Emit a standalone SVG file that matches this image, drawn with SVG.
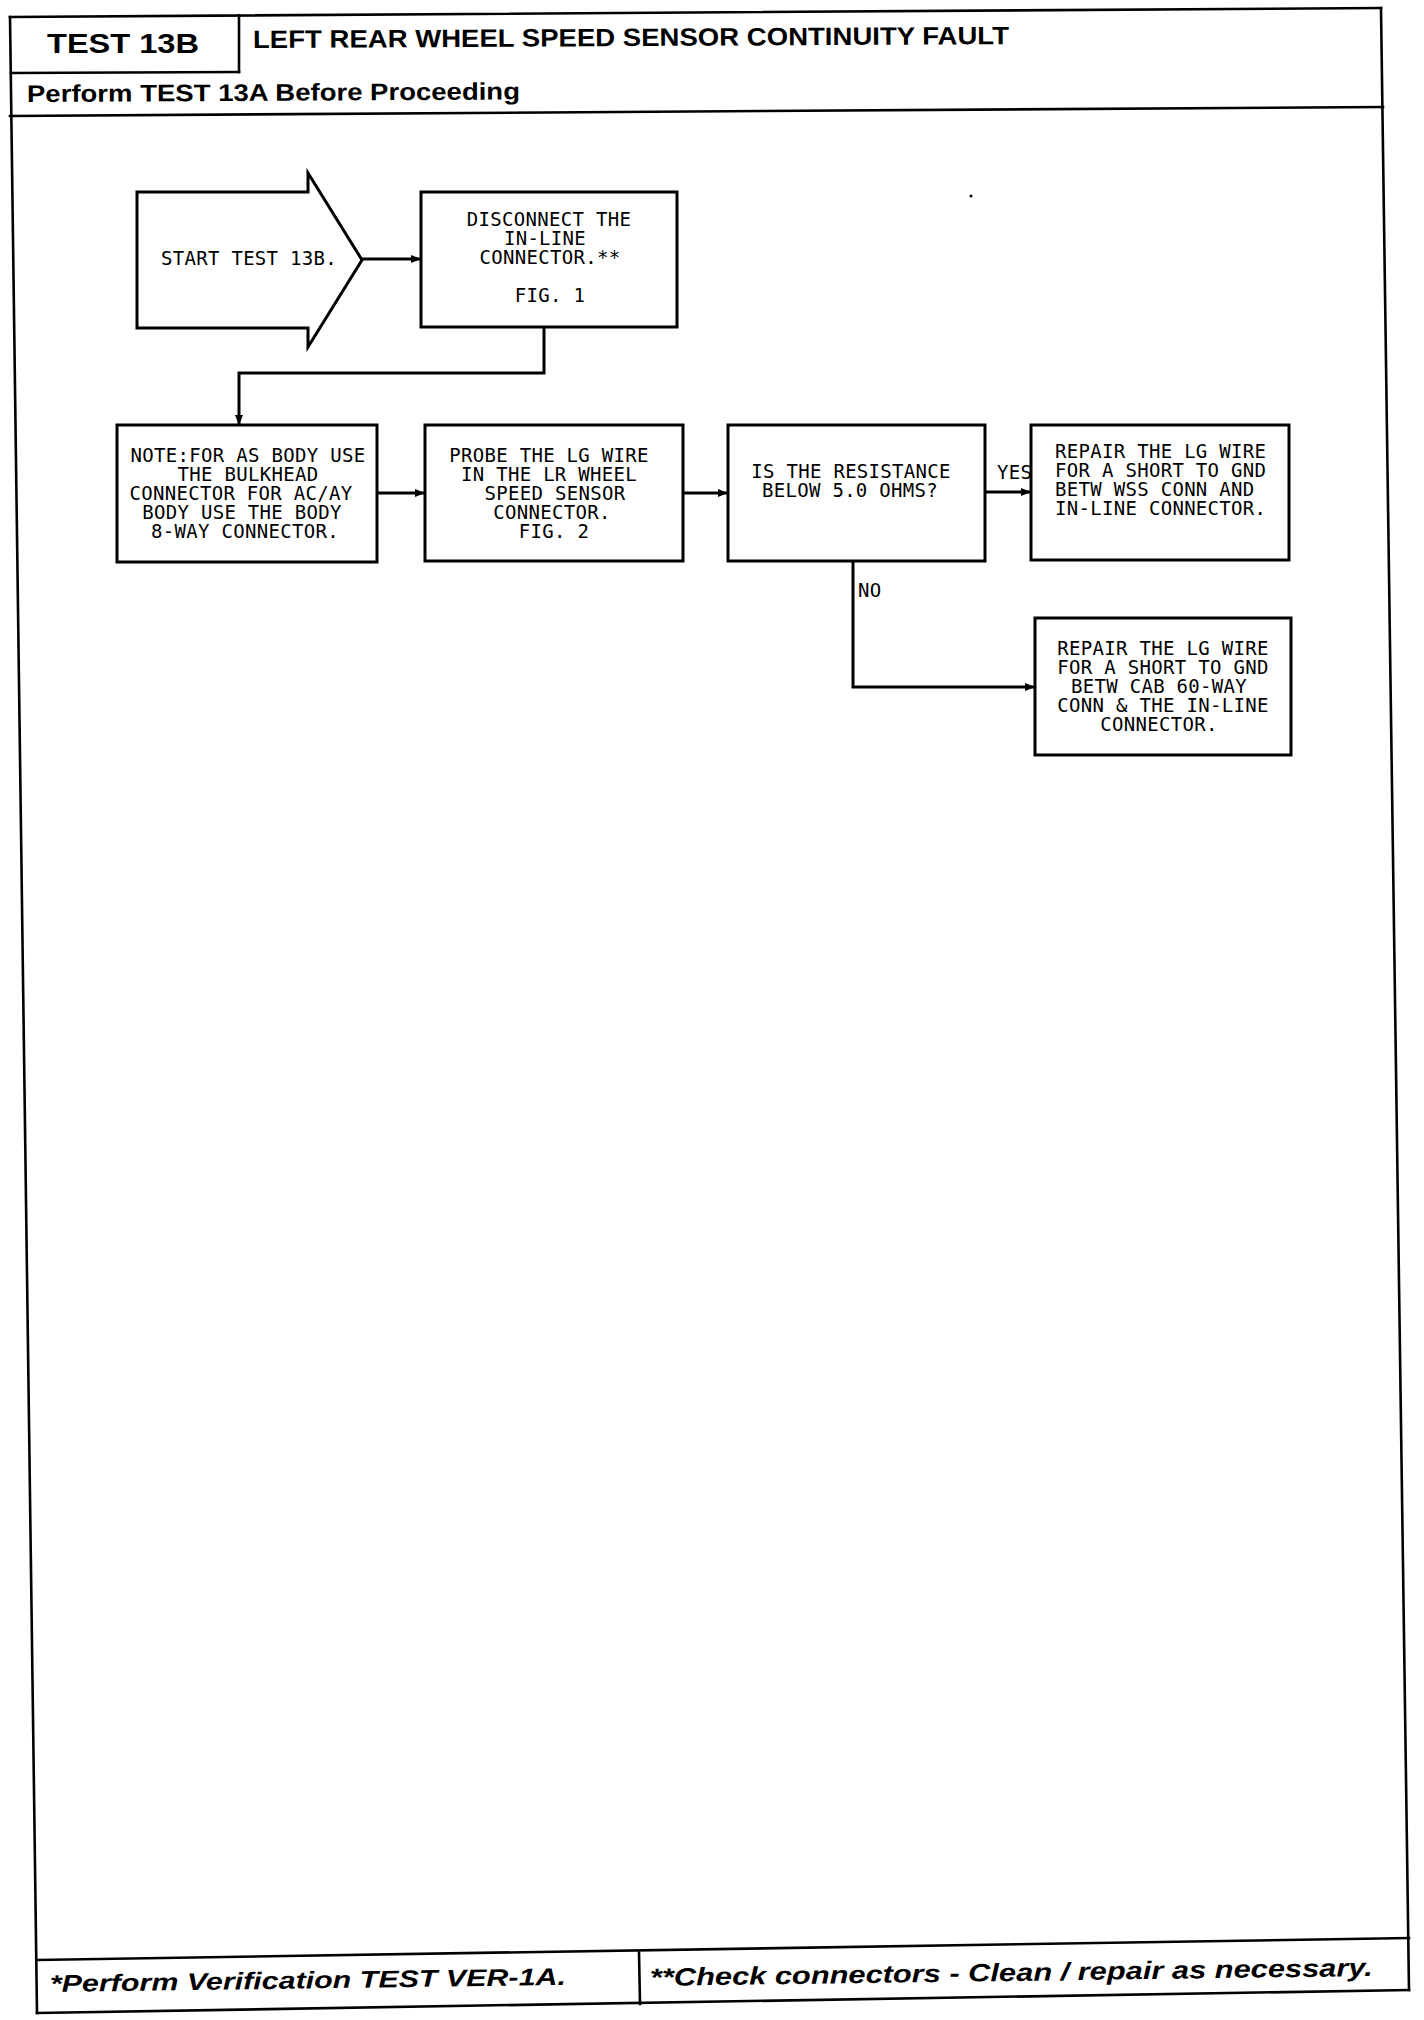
<svg xmlns="http://www.w3.org/2000/svg" width="1424" height="2020" viewBox="0 0 1424 2020">
<style>
.bg{fill:#fff}
.frame{fill:none;stroke:#000;stroke-width:2.6;stroke-linecap:square}
.box{fill:#fff;stroke:#000;stroke-width:3}
.conn{fill:none;stroke:#000;stroke-width:3}
.t{font-family:"DejaVu Sans Mono","Liberation Mono",monospace;font-size:19px;letter-spacing:0.3px;fill:#000;text-anchor:middle}
.ts{font-family:"DejaVu Sans Mono","Liberation Mono",monospace;font-size:19px;letter-spacing:0.3px;fill:#000;text-anchor:start}
.h{font-family:"Liberation Sans",Arial,sans-serif;font-weight:bold;fill:#000}
.f{font-family:"Liberation Sans",Arial,sans-serif;font-weight:bold;font-style:italic;fill:#000}
</style>
<defs>
<marker id="ah" markerUnits="userSpaceOnUse" markerWidth="10" markerHeight="8" refX="10" refY="4" orient="auto">
<path d="M0,0 L10,4 L0,8 z" fill="#000"/>
</marker>
</defs>
<rect class="bg" x="0" y="0" width="1424" height="2020"/>
<g id="frame">
<line class="frame" x1="10" y1="17" x2="1381" y2="8"/>
<line class="frame" x1="1381" y1="8" x2="1409" y2="1990"/>
<line class="frame" x1="10" y1="17" x2="37" y2="2013"/>
<line class="frame" x1="37" y1="2013" x2="1409" y2="1990"/>
<line class="frame" x1="10" y1="116" x2="1383" y2="107"/>
<line class="frame" x1="239" y1="15.5" x2="239" y2="72"/>
<line class="frame" x1="11" y1="73" x2="239" y2="72"/>
<line class="frame" x1="37" y1="1960" x2="1409" y2="1938"/>
<line class="frame" x1="639" y1="1952" x2="640" y2="2004"/>
</g>
<g id="header">
<text class="h" x="47" y="53" font-size="27" textLength="152" lengthAdjust="spacingAndGlyphs">TEST 13B</text>
<text class="h" x="253" y="48" font-size="25" textLength="756" lengthAdjust="spacingAndGlyphs" transform="rotate(-0.3 253 48)">LEFT REAR WHEEL SPEED SENSOR CONTINUITY FAULT</text>
<text class="h" x="27" y="102" font-size="24" textLength="493" lengthAdjust="spacingAndGlyphs" transform="rotate(-0.3 27 102)">Perform TEST 13A Before Proceeding</text>
</g>
<g id="footer">
<text class="f" x="50" y="1992" font-size="24" textLength="516" lengthAdjust="spacingAndGlyphs" transform="rotate(-0.8 50 1992)">*Perform Verification TEST VER-1A.</text>
<text class="f" x="650" y="1986" font-size="25" textLength="723" lengthAdjust="spacingAndGlyphs" transform="rotate(-0.8 650 1986)">**Check connectors - Clean / repair as necessary.</text>
</g>
<g id="connectors">
<line class="conn" x1="362" y1="259" x2="421" y2="259" marker-end="url(#ah)"/>
<polyline class="conn" points="544,327 544,373 239,373 239,425" marker-end="url(#ah)"/>
<line class="conn" x1="377" y1="493" x2="425" y2="493" marker-end="url(#ah)"/>
<line class="conn" x1="683" y1="493" x2="728" y2="493" marker-end="url(#ah)"/>
<line class="conn" x1="985" y1="492" x2="1031" y2="492" marker-end="url(#ah)"/>
<polyline class="conn" points="853,561 853,687 1035,687" marker-end="url(#ah)"/>
<text class="ts" x="997" y="479" letter-spacing="-0.6">YES</text>
<text class="ts" x="858" y="597">NO</text>
</g>
<g id="start">
<polygon class="box" points="137,192 308,192 308,173 362,260 308,347 308,328 137,328"/>
<text class="t" x="249" y="265">START TEST 13B.</text>
</g>
<g id="disconnect">
<rect class="box" x="421" y="192" width="256" height="135"/>
<text class="t" x="549" y="226">DISCONNECT THE</text>
<text class="t" x="545" y="245">IN-LINE</text>
<text class="t" x="550" y="264">CONNECTOR.**</text>
<text class="t" x="550" y="302">FIG. 1</text>
</g>
<g id="note">
<rect class="box" x="117" y="425" width="260" height="137"/>
<text class="t" x="248" y="462">NOTE:FOR AS BODY USE</text>
<text class="t" x="248" y="481">THE BULKHEAD</text>
<text class="t" x="241" y="500">CONNECTOR FOR AC/AY</text>
<text class="t" x="242" y="519">BODY USE THE BODY</text>
<text class="t" x="245" y="538">8-WAY CONNECTOR.</text>
</g>
<g id="probe">
<rect class="box" x="425" y="425" width="258" height="136"/>
<text class="t" x="549" y="462">PROBE THE LG WIRE</text>
<text class="t" x="549" y="481">IN THE LR WHEEL</text>
<text class="t" x="555" y="500">SPEED SENSOR</text>
<text class="t" x="552" y="519">CONNECTOR.</text>
<text class="t" x="554" y="538">FIG. 2</text>
</g>
<g id="resistance">
<rect class="box" x="728" y="425" width="257" height="136"/>
<text class="t" x="851" y="478">IS THE RESISTANCE</text>
<text class="t" x="850" y="497">BELOW 5.0 OHMS?</text>
</g>
<g id="repair1">
<rect class="box" x="1031" y="425" width="258" height="135"/>
<text class="ts" x="1055" y="458">REPAIR THE LG WIRE</text>
<text class="ts" x="1055" y="477">FOR A SHORT TO GND</text>
<text class="ts" x="1055" y="496">BETW WSS CONN AND</text>
<text class="ts" x="1055" y="515">IN-LINE CONNECTOR.</text>
</g>
<g id="repair2">
<rect class="box" x="1035" y="618" width="256" height="137"/>
<text class="t" x="1163" y="655">REPAIR THE LG WIRE</text>
<text class="t" x="1163" y="674">FOR A SHORT TO GND</text>
<text class="t" x="1159" y="693">BETW CAB 60-WAY</text>
<text class="t" x="1163" y="712">CONN &amp; THE IN-LINE</text>
<text class="t" x="1159" y="731">CONNECTOR.</text>
</g>
<circle cx="971" cy="196" r="1.5" fill="#000"/>
</svg>
